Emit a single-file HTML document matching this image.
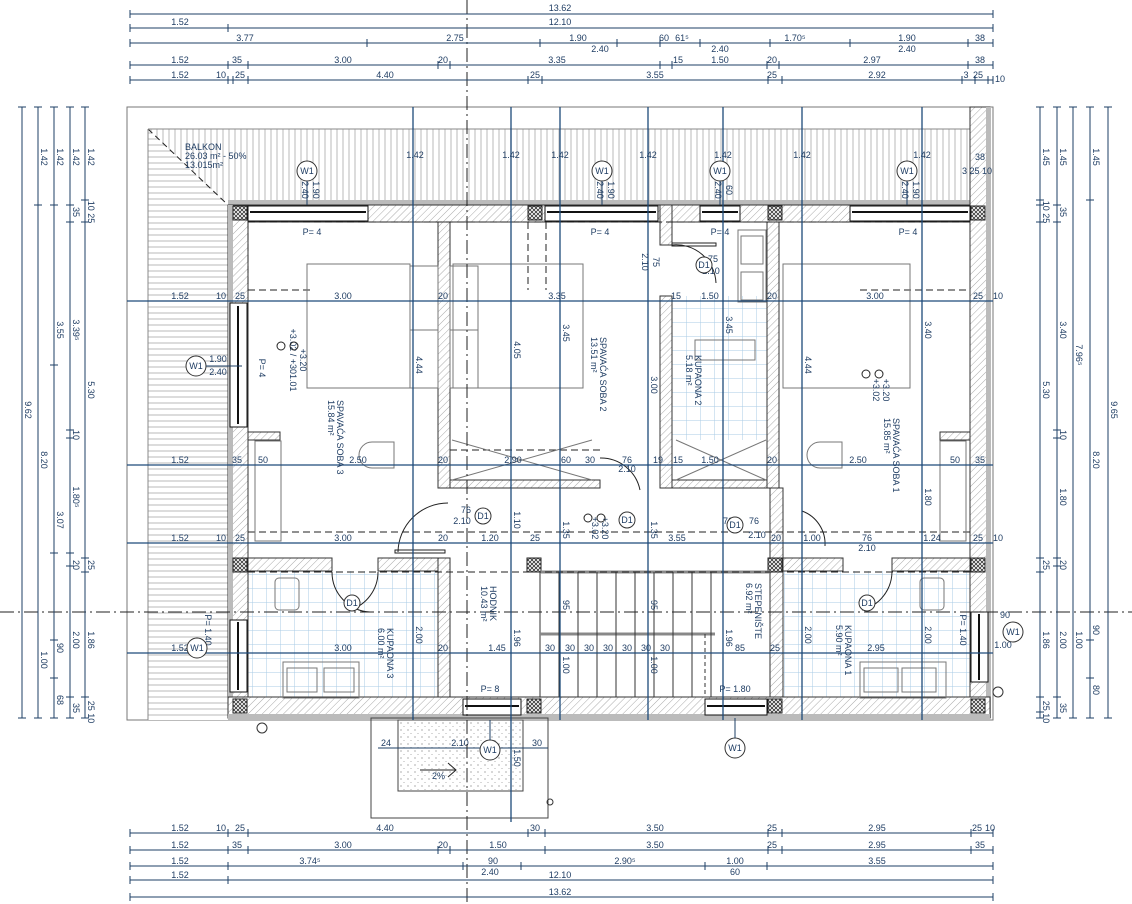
<!DOCTYPE html>
<html><head><meta charset="utf-8"><style>
html,body{margin:0;padding:0;background:#fff;}
svg{display:block;font-family:"Liberation Sans",sans-serif;}
.t{font-size:9px;fill:#1f3d63;}
.tm{font-size:9px;fill:#1f3d63;text-anchor:middle;}
.d{stroke:#1d3f66;stroke-width:1;}
.g{stroke:#1d4a7a;stroke-width:1.3;}
.w{fill:url(#hatch);stroke:#333;stroke-width:1;}
.x{fill:url(#cross);stroke:#222;stroke-width:1;}
.tile{fill:url(#tile);}
.ax{stroke:#222;stroke-width:1;stroke-dasharray:14,4,2,4;}
</style></head><body>
<svg width="1132" height="904" viewBox="0 0 1132 904" xmlns="http://www.w3.org/2000/svg">
<defs>
<pattern id="hatch" width="5" height="5" patternUnits="userSpaceOnUse" patternTransform="rotate(45)"><rect width="5" height="5" fill="#fff"/><line x1="0" y1="0" x2="0" y2="5" stroke="#aaa" stroke-width="1"/></pattern>
<pattern id="cross" width="4" height="4" patternUnits="userSpaceOnUse"><rect width="4" height="4" fill="#fff"/><path d="M0 0L4 4M4 0L0 4" stroke="#333" stroke-width="0.8"/></pattern>
<pattern id="tile" width="14" height="14" patternUnits="userSpaceOnUse"><rect width="14" height="14" fill="#fff"/><path d="M0 0H14M0 0V14" stroke="#a9cbe6" stroke-width="1"/></pattern>
<pattern id="vst" width="6" height="6" patternUnits="userSpaceOnUse"><rect width="6" height="6" fill="#fff"/><line x1="1" y1="0" x2="1" y2="6" stroke="#c4c4c4" stroke-width="1.2"/></pattern>
<pattern id="hst" width="6" height="6" patternUnits="userSpaceOnUse"><rect width="6" height="6" fill="#fff"/><line x1="0" y1="1" x2="6" y2="1" stroke="#c4c4c4" stroke-width="1.2"/></pattern>
<pattern id="dots" width="7" height="7" patternUnits="userSpaceOnUse"><rect width="7" height="7" fill="#fff"/><circle cx="2" cy="2" r="0.6" fill="#777"/><circle cx="5" cy="5.5" r="0.5" fill="#999"/></pattern>
</defs>

<!-- outer frame -->
<rect x="127" y="107" width="866" height="613" fill="none" stroke="#777" stroke-width="1"/>
<!-- balcony -->
<rect x="148" y="129" width="822" height="76" fill="url(#vst)"/>
<rect x="148" y="205" width="80" height="515" fill="url(#hst)"/>
<polygon points="148,129 228,205 148,205" fill="url(#hst)"/>
<line x1="148" y1="129" x2="228" y2="205" stroke="#222" stroke-dasharray="6,4"/>
<line x1="148" y1="129" x2="970" y2="129" stroke="#888"/>
<line x1="148" y1="129" x2="148" y2="720" stroke="#888"/>

<!-- tiles -->
<rect x="248" y="571" width="190" height="126" class="tile"/>
<rect x="672" y="296" width="95" height="144" class="tile"/>
<rect x="783" y="571" width="187" height="126" class="tile"/>

<!-- exterior walls -->
<rect x="228" y="200" width="762" height="5" fill="#bbb"/>
<rect x="228" y="205" width="762" height="17" class="w"/>
<rect x="970" y="107" width="20" height="611" class="w"/>
<rect x="986" y="107" width="5" height="611" fill="#bbb"/>
<rect x="228" y="205" width="20" height="513" class="w"/>
<rect x="228" y="205" width="5" height="513" fill="#bbb"/>
<rect x="228" y="697" width="762" height="21" class="w"/>
<rect x="228" y="714" width="762" height="5" fill="#bbb"/>
<!-- windows -->
<g fill="#fff" stroke="#111">
<rect x="248" y="206" width="120" height="15"/><line x1="250" y1="212" x2="366" y2="212" stroke-width="2"/>
<rect x="545" y="206" width="113" height="15"/><line x1="547" y1="212" x2="656" y2="212" stroke-width="2"/>
<rect x="700" y="206" width="40" height="15"/><line x1="702" y1="212" x2="738" y2="212" stroke-width="2"/>
<rect x="850" y="206" width="120" height="15"/><line x1="852" y1="212" x2="968" y2="212" stroke-width="2"/>
<rect x="230" y="303" width="17" height="124"/><line x1="238" y1="306" x2="238" y2="424" stroke-width="2"/>
<rect x="230" y="620" width="17" height="72"/><line x1="238" y1="622" x2="238" y2="690" stroke-width="2"/>
<rect x="971" y="612" width="17" height="70"/><line x1="979" y1="614" x2="979" y2="680" stroke-width="2"/>
<rect x="463" y="699" width="58" height="16"/><line x1="465" y1="706" x2="519" y2="706" stroke-width="2"/>
<rect x="705" y="699" width="62" height="16"/><line x1="707" y1="706" x2="765" y2="706" stroke-width="2"/>
</g>

<!-- interior walls -->
<rect x="438" y="222" width="12" height="266" class="w"/>
<rect x="450" y="480" width="150" height="8" class="w"/>
<rect x="660" y="205" width="12" height="40" class="w"/>
<rect x="660" y="296" width="12" height="192" class="w"/>
<rect x="672" y="480" width="95" height="8" class="w"/>
<rect x="767" y="222" width="12" height="266" class="w"/>
<rect x="248" y="432" width="32" height="8" class="w"/>
<rect x="940" y="432" width="30" height="8" class="w"/>
<rect x="248" y="558" width="84" height="13" class="w"/>
<rect x="378" y="558" width="72" height="13" class="w"/>
<rect x="438" y="558" width="12" height="139" class="w"/>
<rect x="770" y="488" width="13" height="209" class="w"/>
<rect x="783" y="558" width="60" height="13" class="w"/>
<rect x="892" y="558" width="78" height="13" class="w"/>
<!-- pillars -->
<g class="x">
<rect x="233" y="206" width="14" height="14"/><rect x="528" y="206" width="14" height="14"/><rect x="768" y="206" width="14" height="14"/><rect x="971" y="206" width="14" height="14"/>
<rect x="233" y="558" width="14" height="14"/><rect x="527" y="558" width="14" height="14"/><rect x="768" y="558" width="14" height="14"/><rect x="971" y="558" width="14" height="14"/>
<rect x="233" y="699" width="14" height="14"/><rect x="527" y="699" width="14" height="14"/><rect x="768" y="699" width="14" height="14"/><rect x="971" y="699" width="14" height="14"/>
</g>

<!-- stairs -->
<g stroke="#333" fill="none" stroke-width="1">
<rect x="540" y="572" width="230" height="125"/>
<line x1="540" y1="634" x2="715" y2="634" stroke="#888" stroke-width="3"/>
<line x1="540" y1="572" x2="770" y2="572" stroke="#888" stroke-width="3"/>
<path d="M559 572V697M578 572V697M597 572V697M616 572V697M635 572V697M654 572V697M673 572V697M692 572V697M711 572V697"/>
<line x1="705" y1="634" x2="705" y2="697" stroke-dasharray="4,3"/>
</g>

<!-- dashed beams -->
<g stroke="#222" stroke-dasharray="7,4" fill="none">
<line x1="248" y1="222" x2="970" y2="222"/>
<line x1="248" y1="290" x2="310" y2="290"/>
<line x1="860" y1="290" x2="970" y2="290"/>
<line x1="248" y1="222" x2="248" y2="290"/>
<line x1="248" y1="532" x2="970" y2="532"/>
<line x1="248" y1="572" x2="970" y2="572"/>
<line x1="450" y1="450" x2="600" y2="450"/>
<line x1="528" y1="222" x2="528" y2="290"/>
<line x1="546" y1="222" x2="546" y2="290"/>
</g>

<!-- furniture -->
<g fill="none" stroke="#777" stroke-width="1">
<rect x="307" y="264" width="103" height="124"/>
<rect x="453" y="264" width="130" height="124"/>
<rect x="783" y="264" width="127" height="124"/>
<rect x="410" y="266" width="28" height="64"/><rect x="410" y="330" width="28" height="58"/>
<rect x="450" y="266" width="28" height="64"/><rect x="450" y="330" width="28" height="58"/>
<rect x="783" y="266" width="0" height="0"/>
<rect x="738" y="230" width="28" height="72"/><rect x="741" y="236" width="22" height="28"/><rect x="741" y="272" width="22" height="28"/>
<rect x="695" y="340" width="60" height="20"/>
<rect x="255" y="441" width="26" height="100"/><rect x="940" y="441" width="26" height="100"/>
<rect x="283" y="662" width="76" height="36"/><rect x="287" y="668" width="30" height="24"/><rect x="324" y="668" width="30" height="24"/>
<rect x="860" y="662" width="86" height="36"/><rect x="864" y="668" width="34" height="24"/><rect x="902" y="668" width="34" height="24"/>
<rect x="275" y="578" width="24" height="32" rx="4"/>
<rect x="920" y="578" width="24" height="32" rx="4"/>
<path d="M372 442h22v26h-22a13 13 0 0 1 0-26z"/>
<path d="M820 442h22v26h-22a13 13 0 0 1 0-26z"/>
<path d="M452 440l140 40M452 480l140-40"/>
<path d="M676 440l90 40M676 480l90-40"/>
</g>

<!-- doors -->
<g fill="none" stroke="#222" stroke-width="1">
<path d="M448 503A50 50 0 0 0 398 552"/><rect x="395" y="550" width="50" height="3"/>
<path d="M600 458A40 40 0 0 1 640 490"/>
<path d="M332 572A40 40 0 0 0 370 612"/>
<path d="M378 572A40 40 0 0 1 350 610"/>
<path d="M802 511A35 35 0 0 1 825 546"/>
<path d="M892 572A40 40 0 0 1 862 610"/>
<path d="M672 245A40 40 0 0 1 716 283"/><rect x="672" y="243" width="44" height="3"/>
</g>

<!-- entrance -->
<rect x="371" y="718" width="177" height="100" fill="none" stroke="#444"/>
<rect x="398" y="720" width="125" height="71" fill="url(#dots)" stroke="#444"/>
<path d="M420 770h36M448 763l8 7-8 7" fill="none" stroke="#222"/>
<text x="432" y="779" class="t">2%</text>
<line x1="378" y1="748" x2="548" y2="748" class="d"/>
<text x="386" y="746" class="tm">24</text><text x="460" y="746" class="tm">2.10</text><text x="537" y="746" class="tm">30</text>
<circle cx="550" cy="802" r="3" fill="none" stroke="#333"/>
<circle cx="262" cy="728" r="5" fill="none" stroke="#333"/>
<circle cx="998" cy="692" r="5" fill="none" stroke="#333"/>

<!-- axis lines -->
<line x1="467" y1="0" x2="467" y2="904" class="ax"/>
<line x1="0" y1="612" x2="1132" y2="612" class="ax"/>

<!-- blue grid lines -->
<g class="g">
<line x1="413" y1="107" x2="413" y2="720"/>
<line x1="511" y1="107" x2="511" y2="822"/>
<line x1="560" y1="107" x2="560" y2="720"/>
<line x1="648" y1="107" x2="648" y2="720"/>
<line x1="723" y1="107" x2="723" y2="720"/>
<line x1="802" y1="107" x2="802" y2="720"/>
<line x1="922" y1="107" x2="922" y2="720"/>
<line x1="127" y1="301" x2="993" y2="301"/>
<line x1="127" y1="465" x2="993" y2="465"/>
<line x1="127" y1="543" x2="993" y2="543"/>
<line x1="127" y1="653" x2="993" y2="653"/>
</g>

<!-- top dims -->
<g class="d">
<line x1="130" y1="14" x2="993" y2="14"/><line x1="130" y1="28" x2="993" y2="28"/>
<line x1="130" y1="43" x2="993" y2="43"/><line x1="130" y1="65" x2="993" y2="65"/><line x1="130" y1="80" x2="993" y2="80"/>
<line x1="130" y1="833" x2="993" y2="833"/><line x1="130" y1="850" x2="993" y2="850"/><line x1="130" y1="866" x2="993" y2="866"/>
<line x1="130" y1="880" x2="993" y2="880"/><line x1="130" y1="897" x2="993" y2="897"/>
</g>
<g class="d">
<path d="M130 10v8M993 10v8M130 24v8M228 24v8M993 24v8M130 39v8M367 39v8M540 39v8M617 39v8M660 39v8M700 39v8M770 39v8M850 39v8M968 39v8M993 39v8M130 61v8M228 61v8M248 61v8M438 61v8M450 61v8M660 61v8M672 61v8M767 61v8M779 61v8M968 61v8M993 61v8M130 76v8M228 76v8M233 76v8M248 76v8M528 76v8M542 76v8M768 76v8M782 76v8M962 76v8M975 76v8M988 76v8M993 76v8"/>
<path d="M130 829v8M228 829v8M248 829v8M528 829v8M545 829v8M768 829v8M782 829v8M971 829v8M993 829v8M130 846v8M228 846v8M248 846v8M438 846v8M450 846v8M545 846v8M768 846v8M782 846v8M971 846v8M993 846v8M130 862v8M228 862v8M463 862v8M521 862v8M705 862v8M767 862v8M993 862v8M130 876v8M228 876v8M993 876v8M130 893v8M993 893v8"/>
</g>
<g class="tm">
<text x="560" y="11">13.62</text>
<text x="180" y="25">1.52</text><text x="560" y="25">12.10</text>
<text x="245" y="41">3.77</text><text x="455" y="41">2.75</text><text x="578" y="41">1.90</text><text x="664" y="41">60</text><text x="682" y="41">61⁵</text><text x="795" y="41">1.70⁵</text><text x="907" y="41">1.90</text><text x="980" y="41">38</text>
<text x="600" y="52">2.40</text><text x="720" y="52">2.40</text><text x="907" y="52">2.40</text>
<text x="180" y="63">1.52</text><text x="237" y="63">35</text><text x="343" y="63">3.00</text><text x="443" y="63">20</text><text x="557" y="63">3.35</text><text x="678" y="63">15</text><text x="720" y="63">1.50</text><text x="772" y="63">20</text><text x="872" y="63">2.97</text><text x="980" y="63">38</text>
<text x="180" y="78">1.52</text><text x="221" y="78">10</text><text x="240" y="78">25</text><text x="385" y="78">4.40</text><text x="535" y="78">25</text><text x="655" y="78">3.55</text><text x="772" y="78">25</text><text x="877" y="78">2.92</text><text x="966" y="78">3</text><text x="978" y="78">25</text><text x="1000" y="82">10</text>
<text x="180" y="831">1.52</text><text x="221" y="831">10</text><text x="240" y="831">25</text><text x="385" y="831">4.40</text><text x="535" y="831">30</text><text x="655" y="831">3.50</text><text x="772" y="831">25</text><text x="877" y="831">2.95</text><text x="977" y="831">25</text><text x="990" y="831">10</text>
<text x="180" y="848">1.52</text><text x="237" y="848">35</text><text x="343" y="848">3.00</text><text x="443" y="848">20</text><text x="498" y="848">1.50</text><text x="655" y="848">3.50</text><text x="772" y="848">25</text><text x="877" y="848">2.95</text><text x="980" y="848">35</text>
<text x="180" y="864">1.52</text><text x="310" y="864">3.74⁵</text><text x="493" y="864">90</text><text x="625" y="864">2.90⁵</text><text x="735" y="864">1.00</text><text x="877" y="864">3.55</text>
<text x="490" y="875">2.40</text><text x="735" y="875">60</text>
<text x="180" y="878">1.52</text><text x="560" y="878">12.10</text>
<text x="560" y="895">13.62</text>
</g>

<!-- side dims -->
<g class="d">
<line x1="22" y1="107" x2="22" y2="718"/><line x1="38" y1="107" x2="38" y2="718"/><line x1="54" y1="107" x2="54" y2="718"/><line x1="70" y1="107" x2="70" y2="718"/><line x1="85" y1="107" x2="85" y2="718"/>
<line x1="1040" y1="107" x2="1040" y2="718"/><line x1="1057" y1="107" x2="1057" y2="718"/><line x1="1073" y1="107" x2="1073" y2="718"/><line x1="1090" y1="107" x2="1090" y2="718"/><line x1="1108" y1="107" x2="1108" y2="718"/>
<path d="M18 107h8M18 718h8M34 107h8M34 205h8M34 718h8M50 107h8M50 205h8M50 365h8M50 553h8M50 640h8M50 678h8M50 718h8M66 107h8M66 205h8M66 222h8M66 430h8M66 438h8M66 553h8M66 566h8M66 697h8M66 718h8M81 107h8M81 200h8M81 222h8M81 558h8M81 572h8M81 697h8M81 718h8"/>
<path d="M1036 107h8M1036 200h8M1036 205h8M1036 222h8M1036 558h8M1036 572h8M1036 697h8M1036 712h8M1036 718h8M1053 107h8M1053 205h8M1053 222h8M1053 430h8M1053 438h8M1053 558h8M1053 566h8M1053 697h8M1053 718h8M1069 107h8M1069 718h8M1086 107h8M1086 200h8M1086 640h8M1086 678h8M1086 718h8M1104 107h8M1104 718h8"/>
</g>
<g class="tm">
<g transform="translate(25 410) rotate(90)"><text>9.62</text></g>
<g transform="translate(41 157) rotate(90)"><text>1.42</text></g><g transform="translate(41 460) rotate(90)"><text>8.20</text></g><g transform="translate(41 660) rotate(90)"><text>1.00</text></g>
<g transform="translate(57 157) rotate(90)"><text>1.42</text></g><g transform="translate(57 330) rotate(90)"><text>3.55</text></g><g transform="translate(57 520) rotate(90)"><text>3.07</text></g><g transform="translate(57 648) rotate(90)"><text>90</text></g><g transform="translate(57 700) rotate(90)"><text>68</text></g>
<g transform="translate(73 157) rotate(90)"><text>1.42</text></g><g transform="translate(73 212) rotate(90)"><text>35</text></g><g transform="translate(73 330) rotate(90)"><text>3.39⁵</text></g><g transform="translate(73 435) rotate(90)"><text>10</text></g><g transform="translate(73 497) rotate(90)"><text>1.80⁵</text></g><g transform="translate(73 565) rotate(90)"><text>20</text></g><g transform="translate(73 640) rotate(90)"><text>2.00</text></g><g transform="translate(73 708) rotate(90)"><text>35</text></g>
<g transform="translate(88 157) rotate(90)"><text>1.42</text></g><g transform="translate(88 212) rotate(90)"><text>10 25</text></g><g transform="translate(88 390) rotate(90)"><text>5.30</text></g><g transform="translate(88 565) rotate(90)"><text>25</text></g><g transform="translate(88 640) rotate(90)"><text>1.86</text></g><g transform="translate(88 712) rotate(90)"><text>25 10</text></g>
<g transform="translate(1043 157) rotate(90)"><text>1.45</text></g><g transform="translate(1043 212) rotate(90)"><text>10 25</text></g><g transform="translate(1043 390) rotate(90)"><text>5.30</text></g><g transform="translate(1043 565) rotate(90)"><text>25</text></g><g transform="translate(1043 640) rotate(90)"><text>1.86</text></g><g transform="translate(1043 712) rotate(90)"><text>25 10</text></g>
<g transform="translate(1060 157) rotate(90)"><text>1.45</text></g><g transform="translate(1060 212) rotate(90)"><text>35</text></g><g transform="translate(1060 330) rotate(90)"><text>3.40</text></g><g transform="translate(1060 435) rotate(90)"><text>10</text></g><g transform="translate(1060 497) rotate(90)"><text>1.80</text></g><g transform="translate(1060 565) rotate(90)"><text>20</text></g><g transform="translate(1060 640) rotate(90)"><text>2.00</text></g><g transform="translate(1060 708) rotate(90)"><text>35</text></g>
<g transform="translate(1076 355) rotate(90)"><text>7.96⁵</text></g><g transform="translate(1076 640) rotate(90)"><text>1.00</text></g>
<g transform="translate(1093 157) rotate(90)"><text>1.45</text></g><g transform="translate(1093 460) rotate(90)"><text>8.20</text></g><g transform="translate(1093 630) rotate(90)"><text>90</text></g><g transform="translate(1093 690) rotate(90)"><text>80</text></g>
<g transform="translate(1111 410) rotate(90)"><text>9.65</text></g>
</g>

<!-- grid line labels -->
<g class="tm">
<text x="180" y="299">1.52</text><text x="221" y="299">10</text><text x="240" y="299">25</text><text x="343" y="299">3.00</text><text x="443" y="299">20</text><text x="557" y="299">3.35</text><text x="676" y="299">15</text><text x="710" y="299">1.50</text><text x="772" y="299">20</text><text x="875" y="299">3.00</text><text x="978" y="299">25</text><text x="998" y="299">10</text>
<text x="180" y="463">1.52</text><text x="237" y="463">35</text><text x="263" y="463">50</text><text x="358" y="463">2.50</text><text x="443" y="463">20</text><text x="513" y="463">2.90</text><text x="566" y="463">60</text><text x="590" y="463">30</text><text x="627" y="463">76</text><text x="627" y="472">2.10</text><text x="658" y="463">19</text><text x="678" y="463">15</text><text x="710" y="463">1.50</text><text x="772" y="463">20</text><text x="858" y="463">2.50</text><text x="955" y="463">50</text><text x="980" y="463">35</text>
<text x="180" y="541">1.52</text><text x="221" y="541">10</text><text x="240" y="541">25</text><text x="343" y="541">3.00</text><text x="443" y="541">20</text><text x="490" y="541">1.20</text><text x="535" y="541">25</text><text x="677" y="541">3.55</text><text x="776" y="541">20</text><text x="812" y="541">1.00</text><text x="867" y="541">76</text><text x="867" y="551">2.10</text><text x="932" y="541">1.24</text><text x="978" y="541">25</text><text x="998" y="541">10</text>
<text x="180" y="651">1.52</text><text x="343" y="651">3.00</text><text x="443" y="651">20</text><text x="497" y="651">1.45</text><text x="550" y="651">30</text><text x="570" y="651">30</text><text x="589" y="651">30</text><text x="608" y="651">30</text><text x="627" y="651">30</text><text x="646" y="651">30</text><text x="665" y="651">30</text><text x="740" y="651">85</text><text x="775" y="651">25</text><text x="876" y="651">2.95</text>
<text x="415" y="158">1.42</text><text x="511" y="158">1.42</text><text x="560" y="158">1.42</text><text x="648" y="158">1.42</text><text x="723" y="158">1.42</text><text x="802" y="158">1.42</text><text x="922" y="158">1.42</text>
<text x="312" y="235">P= 4</text><text x="600" y="235">P= 4</text><text x="720" y="235">P= 4</text><text x="908" y="235">P= 4</text>
<text x="490" y="692">P= 8</text><text x="735" y="692">P= 1.80</text>
<text x="980" y="160">38</text><text x="977" y="174">3 25 10</text>
<text x="466" y="513">76</text><text x="462" y="524">2.10</text>
<text x="728" y="524">76</text><text x="754" y="524">76</text><text x="757" y="538">2.10</text>
<text x="713" y="262">75</text><text x="711" y="274">2.10</text>
</g>
<!-- vertical labels within plan -->
<g class="tm">
<g transform="translate(416 365) rotate(90)"><text>4.44</text></g>
<g transform="translate(514 350) rotate(90)"><text>4.05</text></g>
<g transform="translate(563 333) rotate(90)"><text>3.45</text></g>
<g transform="translate(651 385) rotate(90)"><text>3.00</text></g>
<g transform="translate(726 325) rotate(90)"><text>3.45</text></g>
<g transform="translate(805 365) rotate(90)"><text>4.44</text></g>
<g transform="translate(925 330) rotate(90)"><text>3.40</text></g>
<g transform="translate(925 497) rotate(90)"><text>1.80</text></g>
<g transform="translate(514 520) rotate(90)"><text>1.10</text></g>
<g transform="translate(563 530) rotate(90)"><text>1.35</text></g>
<g transform="translate(651 530) rotate(90)"><text>1.35</text></g>
<g transform="translate(416 635) rotate(90)"><text>2.00</text></g>
<g transform="translate(514 638) rotate(90)"><text>1.96</text></g>
<g transform="translate(563 605) rotate(90)"><text>95</text></g>
<g transform="translate(651 605) rotate(90)"><text>95</text></g>
<g transform="translate(563 665) rotate(90)"><text>1.00</text></g>
<g transform="translate(651 665) rotate(90)"><text>1.00</text></g>
<g transform="translate(726 638) rotate(90)"><text>1.96</text></g>
<g transform="translate(805 635) rotate(90)"><text>2.00</text></g>
<g transform="translate(925 635) rotate(90)"><text>2.00</text></g>
<g transform="translate(514 758) rotate(90)"><text>1.50</text></g>
<g transform="translate(642 262) rotate(90)"><text>2.10</text></g>
<g transform="translate(653 262) rotate(90)"><text>75</text></g>
<g transform="translate(259 368) rotate(90)"><text>P= 4</text></g>
<g transform="translate(960 630) rotate(90)"><text>P= 1.40</text></g>
<g transform="translate(205 630) rotate(90)"><text>P= 1.40</text></g>
</g>
<!-- room labels -->
<g class="t">
<text x="185" y="150">BALKON</text><text x="185" y="159">26.03 m² - 50%</text><text x="185" y="168">13.015m²</text>
<g transform="translate(337 400) rotate(90)"><text>SPAVAĆA SOBA 3</text><text y="9">15.84 m²</text></g>
<g transform="translate(600 337) rotate(90)"><text>SPAVAĆA SOBA 2</text><text y="9">13.51 m²</text></g>
<g transform="translate(695 355) rotate(90)"><text>KUPAONA 2</text><text y="9">5.18 m²</text></g>
<g transform="translate(893 418) rotate(90)"><text>SPAVAĆA SOBA 1</text><text y="9">15.85 m²</text></g>
<g transform="translate(490 586) rotate(90)"><text>HODNIK</text><text y="9">10.43 m²</text></g>
<g transform="translate(755 583) rotate(90)"><text>STEPENIŠTE</text><text y="9">6.92 m²</text></g>
<g transform="translate(387 628) rotate(90)"><text>KUPAONA 3</text><text y="9">6.00 m²</text></g>
<g transform="translate(845 625) rotate(90)"><text>KUPAONA 1</text><text y="9">5.90 m²</text></g>
</g>
<!-- symbols W1 / D1 -->
<g fill="#fff" stroke="#333">
<circle cx="307" cy="171" r="10"/><circle cx="602" cy="171" r="10"/><circle cx="720" cy="171" r="10"/><circle cx="907" cy="171" r="10"/>
<circle cx="196" cy="366" r="10"/><circle cx="197" cy="648" r="10"/><circle cx="1013" cy="632" r="10"/><circle cx="735" cy="748" r="10"/><circle cx="490" cy="750" r="10"/>
<circle cx="704" cy="265" r="8"/><circle cx="483" cy="516" r="8"/><circle cx="627" cy="520" r="8"/><circle cx="735" cy="525" r="8"/><circle cx="352" cy="603" r="8"/><circle cx="867" cy="603" r="8"/>
</g>
<g class="tm">
<text x="307" y="174">W1</text><text x="602" y="174">W1</text><text x="720" y="174">W1</text><text x="907" y="174">W1</text>
<text x="196" y="369">W1</text><text x="197" y="651">W1</text><text x="1013" y="635">W1</text><text x="735" y="751">W1</text><text x="490" y="753">W1</text>
<text x="704" y="268">D1</text><text x="483" y="519">D1</text><text x="627" y="523">D1</text><text x="735" y="528">D1</text><text x="352" y="606">D1</text><text x="867" y="606">D1</text>
<text x="218" y="362">1.90</text><text x="218" y="375">2.40</text>
<text x="1005" y="618">90</text><text x="1003" y="648">1.00</text>
</g>
<g class="d"><path d="M307 181v24M602 181v24M720 181v24M907 181v24M206 366h36M735 738v-20M490 740v-20"/></g>
<g class="tm">
<g transform="translate(313 190) rotate(90)"><text>1.90</text></g><g transform="translate(302 190) rotate(90)"><text>2.40</text></g>
<g transform="translate(608 190) rotate(90)"><text>1.90</text></g><g transform="translate(597 190) rotate(90)"><text>2.40</text></g>
<g transform="translate(726 190) rotate(90)"><text>60</text></g><g transform="translate(715 190) rotate(90)"><text>2.40</text></g>
<g transform="translate(913 190) rotate(90)"><text>1.90</text></g><g transform="translate(902 190) rotate(90)"><text>2.40</text></g>
<g transform="translate(290 360) rotate(90)"><text>+3.02 / +301.01</text></g><g transform="translate(300 360) rotate(90)"><text>+3.20</text></g>
<g transform="translate(592 528) rotate(90)"><text>+3.02</text></g><g transform="translate(602 528) rotate(90)"><text>+3.20</text></g>
<g transform="translate(873 390) rotate(90)"><text>+3.02</text></g><g transform="translate(883 390) rotate(90)"><text>+3.20</text></g>
</g>
<g fill="none" stroke="#222"><circle cx="281" cy="346" r="4"/><circle cx="294" cy="346" r="4"/><circle cx="588" cy="518" r="4"/><circle cx="601" cy="518" r="4"/><circle cx="866" cy="374" r="4"/><circle cx="879" cy="374" r="4"/></g>
</svg>
</body></html>
